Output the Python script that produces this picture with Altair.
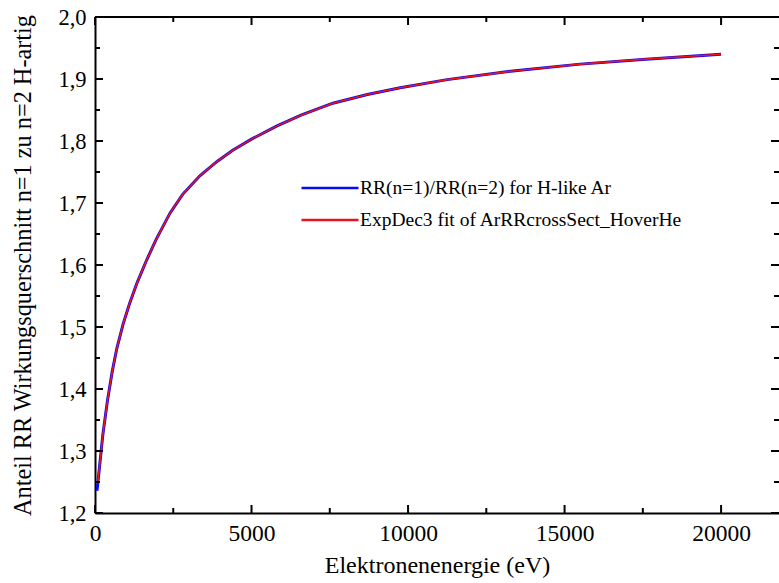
import altair as alt
import pandas as pd

FONT = "Liberation Serif"

# measured curve: RR(n=1)/RR(n=2) for H-like Ar
energy = [60, 80, 150, 250, 400, 550, 700, 900, 1100, 1350, 1650, 1950, 2400, 2800,
          3350, 3900, 4400, 5000, 5800, 6600, 7600, 8700, 9750, 11250, 13350, 15500,
          17600, 20000]
ratio = [1.236, 1.243, 1.277, 1.326, 1.382, 1.428, 1.466, 1.505, 1.537, 1.572, 1.608,
         1.641, 1.684, 1.714, 1.744, 1.767, 1.785, 1.803, 1.824, 1.842, 1.861, 1.875,
         1.886, 1.899, 1.913, 1.924, 1.932, 1.940]

# ExpDec3 fit curve
fit_energy = [90, 150, 250, 400, 550, 700, 900, 1100, 1350, 1650, 1950, 2400, 2800,
              3350, 3900, 4400, 5000, 5800, 6600, 7600, 8700, 9750, 11250, 13350, 15500,
              17600, 20000]
fit_ratio = [1.249, 1.277, 1.326, 1.382, 1.428, 1.466, 1.505, 1.537, 1.572, 1.608,
             1.641, 1.684, 1.714, 1.744, 1.767, 1.785, 1.803, 1.824, 1.842, 1.861, 1.875,
             1.886, 1.899, 1.913, 1.924, 1.932, 1.940]

series_names = ["RR(n=1)/RR(n=2) for H-like Ar", "ExpDec3 fit of ArRRcrossSect_HoverHe"]
series_colors = ["#0a0aee", "#e8141e"]

x_major = [0, 5000, 10000, 15000, 20000]
x_minor = [2500, 7500, 12500, 17500]
y_major = [1.2, 1.3, 1.4, 1.5, 1.6, 1.7, 1.8, 1.9, 2.0]
y_minor = [1.25, 1.35, 1.45, 1.55, 1.65, 1.75, 1.85, 1.95]

x_title = "Elektronenenergie (eV)"
y_title = "Anteil RR Wirkungsquerschnitt n=1 zu n=2 H-artig"

W, H = 684, 496
x_dom = [0, 21850]
y_dom = [1.2, 2.0]

df_data = pd.DataFrame({"energy": energy, "ratio": ratio, "series": series_names[0]})
df_fit = pd.DataFrame({"energy": fit_energy, "ratio": fit_ratio, "series": series_names[1]})

xs = alt.Scale(domain=x_dom, nice=False, zero=False)
ys = alt.Scale(domain=y_dom, nice=False, zero=False)

x_axis = alt.Axis(values=x_major, format="d", labelPadding=8, titlePadding=9, title=x_title,
                  labelFontSize=23.5, titleFontSize=24, labelFlush=False)
y_axis = alt.Axis(values=y_major,
                  labelExpr="replace(format(datum.value, '.1f'), '.', ',')",
                  labelPadding=9, titlePadding=22, title=y_title,
                  labelFontSize=22.5, titleFontSize=24.3, labelFlush=False)

x_enc = alt.X("energy:Q", scale=xs, axis=x_axis)
y_enc = alt.Y("ratio:Q", scale=ys, axis=y_axis)
color_enc = alt.Color("series:N",
                      scale=alt.Scale(domain=series_names, range=series_colors),
                      legend=alt.Legend(title=None, orient="none", legendX=205, legendY=162,
                                        symbolType="stroke", symbolSize=3249,
                                        symbolStrokeWidth=2.5, labelFont=FONT,
                                        labelFontSize=19.5, labelColor="black",
                                        labelLimit=0, labelOffset=0, clipHeight=18,
                                        rowPadding=12, padding=0))

line_data = alt.Chart(df_data).mark_line(strokeWidth=3, clip=True).encode(
    x=x_enc, y=y_enc, color=color_enc)
line_fit = alt.Chart(df_fit).mark_line(strokeWidth=1.6, clip=True).encode(
    x=x_enc, y=y_enc, color=color_enc)


def xticks(vals, y0, y1):
    return alt.Chart(pd.DataFrame({"energy": vals})).mark_rule(color="black", strokeWidth=2).encode(
        x=alt.X("energy:Q", scale=xs, axis=x_axis), y=alt.value(y0), y2=alt.value(y1))


def yticks(vals, x0, x1):
    return alt.Chart(pd.DataFrame({"ratio": vals})).mark_rule(color="black", strokeWidth=2).encode(
        y=alt.Y("ratio:Q", scale=ys, axis=y_axis), x=alt.value(x0), x2=alt.value(x1))


top_frame = alt.Chart(pd.DataFrame({"a": [0]})).mark_rule(color="black", strokeWidth=2).encode(
    x=alt.value(0), x2=alt.value(W), y=alt.value(0))

ticks = [
    xticks(x_major, H, H - 8), xticks(x_minor, H, H - 5),
    xticks(x_major, 0, 8), xticks(x_minor, 0, 5),
    yticks(y_major, 0, 8), yticks(y_minor, 0, 5),
    yticks(y_major, W, W - 8), yticks(y_minor, W, W - 5),
]

chart = alt.layer(line_data, line_fit, top_frame, *ticks).properties(
    width=W, height=H,
    background="white",
    autosize=alt.AutoSizeParams(type="none"),
    padding={"left": 95, "top": 17, "right": 0, "bottom": 70},
).configure_view(stroke=None).configure_axis(
    domainColor="black", domainWidth=2, ticks=False, grid=False,
    labelFont=FONT, labelColor="black",
    titleFont=FONT, titleFontWeight="normal", titleColor="black",
).configure_legend(labelFont=FONT)

chart.save("out.html", embed_options={"renderer": "svg", "actions": False})
